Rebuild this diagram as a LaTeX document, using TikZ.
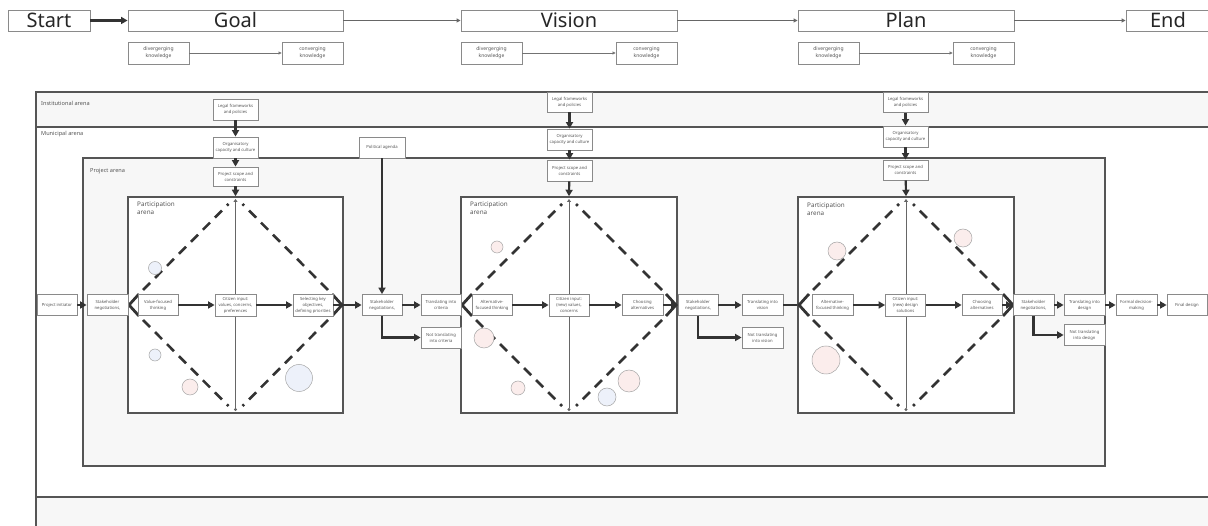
\documentclass[tikz,border=0pt]{standalone}
\usepackage{fontspec}
\setmainfont{Noto Sans}
\usetikzlibrary{arrows.meta}
\definecolor{arrowc}{HTML}{333333}
\definecolor{boxgray}{HTML}{8A8A8A}
\definecolor{arenac}{HTML}{555555}
\definecolor{arenafill}{HTML}{F7F7F7}
\definecolor{txtgray}{HTML}{555555}
\definecolor{pinkf}{HTML}{FBEDEC}
\definecolor{bluef}{HTML}{EDF1FA}
\newcommand{\pdiam}[3]{%
  \draw[dia] (#2+15,290) -- (#1-7,204);
  \draw[dia] (#3-15,290) -- (#1+7,204);
  \draw[dia] (#2+15,320) -- (#1-7,406);
  \draw[dia] (#3-15,320) -- (#1+7,406);
  \draw[chev] (#2+11,294) -- (#2+1,305) -- (#2+11,316);
  \draw[chev] (#3-11,294) -- (#3-1,305) -- (#3-11,316);
  \draw[vline] (#1,199) -- (#1,411);
}
\begin{document}
\begin{tikzpicture}[x=1pt,y=-1pt,
  nbox/.style={draw=boxgray, fill=white, line width=0.8pt, inner sep=0pt, align=center,
    font=\fontsize{4.2}{6}\selectfont, text=txtgray, minimum width=41pt, minimum height=21pt},
  topbox/.style={draw=boxgray, fill=white, line width=0.9pt, inner sep=0pt,
    minimum height=21pt, font=\fontsize{20}{22}\selectfont, text=black!85},
  knbox/.style={nbox, minimum width=61pt, minimum height=22pt, font=\fontsize{5}{7}\selectfont},
  arenabox/.style={draw=arenac, line width=1.2pt, inner sep=0pt, shape=rectangle},
  partbox/.style={draw=arenac, fill=white, line width=1.5pt, inner sep=0pt, shape=rectangle},
  flow/.style={line width=2.1pt, draw=arrowc, -{Triangle[length=6.5pt,width=7pt]}},
  plainflow/.style={line width=2.1pt, draw=arrowc},
  thinflow/.style={line width=1pt, draw=black!60, -{Triangle[length=4pt,width=4pt]}},
  kflow/.style={line width=0.6pt, draw=black!55, -{Triangle[length=3pt,width=3pt]}},
  dia/.style={draw=arrowc, line width=2.6pt, dash pattern=on 10pt off 7pt},
  chev/.style={draw=arrowc, line width=2.8pt, line join=miter},
  vline/.style={draw=black!60, line width=0.8pt, {Triangle[length=3pt,width=4pt]}-{Circle[length=3pt]}},
  bub/.style={draw=black!35, line width=0.5pt},
  lbl/.style={font=\fontsize{5.6}{6.5}\selectfont, text=txtgray, anchor=north west, inner sep=0pt, align=left},
  plbl/.style={font=\fontsize{6.3}{8}\selectfont, text=txtgray, anchor=north west, inner sep=0pt, align=left}
]
\useasboundingbox (0,0) rectangle (1208,526);
\fill[white] (0,0) rectangle (1208,526);

% ---------- top process bar ----------
\node[topbox, minimum width=82pt] (start) at (49,20.5) {Start};
\node[topbox, minimum width=215pt] (goal) at (235.5,20.5) {Goal};
\node[topbox, minimum width=216pt] (vision) at (569,20.5) {Vision};
\node[topbox, minimum width=216pt] (plan) at (906,20.5) {Plan};
\node[topbox, minimum width=84pt] (endbox) at (1168,20.5) {End};
\draw[flow] (start) -- (goal);
\draw[thinflow] (goal) -- (vision);
\draw[thinflow] (vision) -- (plan);
\draw[thinflow] (plan) -- (endbox);

\node[knbox] (d1) at (158.5,53) {divergerging\\knowledge};
\node[knbox] (c1) at (312.5,53) {converging\\knowledge};
\node[knbox] (d2) at (491.5,53) {divergerging\\knowledge};
\node[knbox] (c2) at (646.5,53) {converging\\knowledge};
\node[knbox] (d3) at (828.5,53) {divergerging\\knowledge};
\node[knbox] (c3) at (983.5,53) {converging\\knowledge};
\draw[kflow] (d1) -- (c1);
\draw[kflow] (d2) -- (c2);
\draw[kflow] (d3) -- (c3);

% ---------- arenas ----------
\node[arenabox, fill=arenafill, minimum width=1179pt, minimum height=35pt] (inst) at (625.5,109.5) {};
\node[arenabox, fill=white, minimum width=1179pt, minimum height=370pt] (muni) at (625.5,312) {};
\node[arenabox, fill=arenafill, minimum width=1179pt, minimum height=38pt] (lower) at (625.5,516) {};
\node[arenabox, fill=arenafill, minimum width=1022pt, minimum height=308pt] (proj) at (594,312) {};
\node[lbl] (instl) at (41,101) {Institutional arena};
\node[lbl] (munil) at (41,131) {Municipal arena};
\node[lbl] (projl) at (90,168) {Project arena};

\node[partbox, minimum width=215pt, minimum height=216pt] (pa1) at (235.5,305) {};
\node[partbox, minimum width=216pt, minimum height=216pt] (pa2) at (569,305) {};
\node[partbox, minimum width=216pt, minimum height=216pt] (pa3) at (906,305) {};
\node[plbl] (pl1) at (137,202) {Participation\\arena};
\node[plbl] (pl2) at (470,202) {Participation\\arena};
\node[plbl] (pl3) at (807,203) {Participation\\arena};

% ---------- diamonds ----------
\pdiam{235.5}{128}{343}
\pdiam{569}{461}{677}
\pdiam{906}{798}{1014}

% ---------- bubbles ----------
\draw[bub, fill=bluef] (155,268) circle[radius=6.5];
\draw[bub, fill=bluef] (155,355) circle[radius=6];
\draw[bub, fill=pinkf] (190,387) circle[radius=8];
\draw[bub, fill=bluef] (299,378) circle[radius=13.5];
\draw[bub, fill=pinkf] (497,247) circle[radius=6];
\draw[bub, fill=pinkf] (484,338) circle[radius=10];
\draw[bub, fill=pinkf] (518,388) circle[radius=7];
\draw[bub, fill=pinkf] (629,381) circle[radius=11];
\draw[bub, fill=bluef] (607,397) circle[radius=9];
\draw[bub, fill=pinkf] (837,251) circle[radius=9];
\draw[bub, fill=pinkf] (963,238) circle[radius=9];
\draw[bub, fill=pinkf] (826,360) circle[radius=14];

% ---------- top-down context nodes ----------
\node[nbox, minimum width=45pt] (legal1) at (235.5,109.5) {Legal frameworks\\and policies};
\node[nbox, minimum width=45pt] (org1) at (235.5,147.5) {Organisatory\\capacity and culture};
\node[nbox, minimum width=45pt, minimum height=19pt] (scope1) at (235.5,176.5) {Project scope and\\constraints};
\node[nbox, minimum width=46pt] (pol) at (382,147.5) {Political agenda};

\node[nbox, minimum width=45pt, minimum height=20pt] (legal2) at (569.5,102) {Legal frameworks\\and policies};
\node[nbox, minimum width=45pt] (org2) at (569.5,139.5) {Organisatory\\capacity and culture};
\node[nbox, minimum width=45pt] (scope2) at (569.5,170.5) {Project scope and\\constraints};

\node[nbox, minimum width=45pt, minimum height=20pt] (legal3) at (905.5,102.5) {Legal frameworks\\and policies};
\node[nbox, minimum width=45pt] (org3) at (905.5,136.5) {Organisatory\\capacity and culture};
\node[nbox, minimum width=45pt, minimum height=20pt] (scope3) at (905.5,170) {Project scope and\\constraints};

\draw[flow] (legal1) -- (org1);
\draw[flow] (org1) -- (scope1);
\draw[flow] (scope1) -- (pa1.north);
\draw[flow] (legal2) -- (org2);
\draw[flow] (org2) -- (scope2);
\draw[flow] (scope2) -- (pa2.north);
\draw[flow] (legal3) -- (org3);
\draw[flow] (org3) -- (scope3);
\draw[flow] (scope3) -- (pa3.north);

% ---------- main row ----------
\node[nbox, minimum width=40pt] (init) at (57,305) {Project initiator};
\node[nbox] (sn1) at (107.5,305) {Stakeholder\\negotiations,};
\node[nbox, minimum width=40pt] (vft) at (158,305) {Value-focused\\thinking};
\node[nbox, minimum height=22pt] (ci1) at (235.5,305) {Citizen input:\\values, concerns,\\preferences};
\node[nbox, minimum width=40pt, minimum height=22pt] (sko) at (313,305) {Selecting key\\objectives,\\defining priorities};
\node[nbox, minimum width=40pt] (sn2) at (382,305) {Stakeholder\\negotiations,};
\node[nbox, minimum width=40pt] (tic) at (441,305) {Translating into\\criteria};
\node[nbox, minimum width=40pt] (ntc) at (441,337.5) {Not translating\\into criteria};

\node[nbox, minimum width=40pt] (aft2) at (492,305) {Alternative-\\focused thinking};
\node[nbox, minimum width=40pt, minimum height=22pt] (ci2) at (569,305) {Citizen input:\\(new) values,\\concerns};
\node[nbox] (ca2) at (642.5,305) {Choosing\\alternatives};
\node[nbox, minimum width=40pt] (sn3) at (698,305) {Stakeholder\\negotiations,};
\node[nbox] (tiv) at (762.5,305) {Translating into\\vision};
\node[nbox] (ntv) at (762.5,337.5) {Not translating\\into vision};

\node[nbox] (aft3) at (832.5,305) {Alternative-\\focused thinking};
\node[nbox, minimum width=40pt, minimum height=22pt] (ci3) at (905.5,305) {Citizen input:\\(new) design\\solutions};
\node[nbox, minimum width=40pt] (ca3) at (982,305) {Choosing\\alternatives};
\node[nbox] (sn4) at (1033.5,305) {Stakeholder\\negotiations,};
\node[nbox] (tid) at (1084.5,305) {Translating into\\design};
\node[nbox] (ntd) at (1084.5,335) {Not translating\\into design};
\node[nbox] (fdm) at (1136.5,305) {Formal decision-\\making};
\node[nbox, minimum width=40pt] (fd) at (1187,305) {Final design};

\draw[flow] (pol) -- (sn2);
\draw[flow] (init) -- (sn1);
\draw[flow] (vft) -- (ci1);
\draw[flow] (ci1) -- (sko);
\draw[flow] (sko) -- (sn2);
\draw[flow] (sn2) -- (tic);
\draw[flow] (sn2.south) |- (ntc.west);
\draw[flow] (aft2) -- (ci2);
\draw[flow] (ci2) -- (ca2);
\draw[flow] (ca2) -- (sn3);
\draw[flow] (sn3) -- (tiv);
\draw[flow] (sn3.south) |- (ntv.west);
\draw[plainflow] (tiv) -- (pa3.west);
\draw[flow] (aft3) -- (ci3);
\draw[flow] (ci3) -- (ca3);
\draw[flow] (ca3) -- (sn4);
\draw[flow] (sn4) -- (tid);
\draw[flow] (sn4.south) |- (ntd.west);
\draw[flow] (tid) -- (fdm);
\draw[flow] (fdm) -- (fd);
\end{tikzpicture}
\end{document}
